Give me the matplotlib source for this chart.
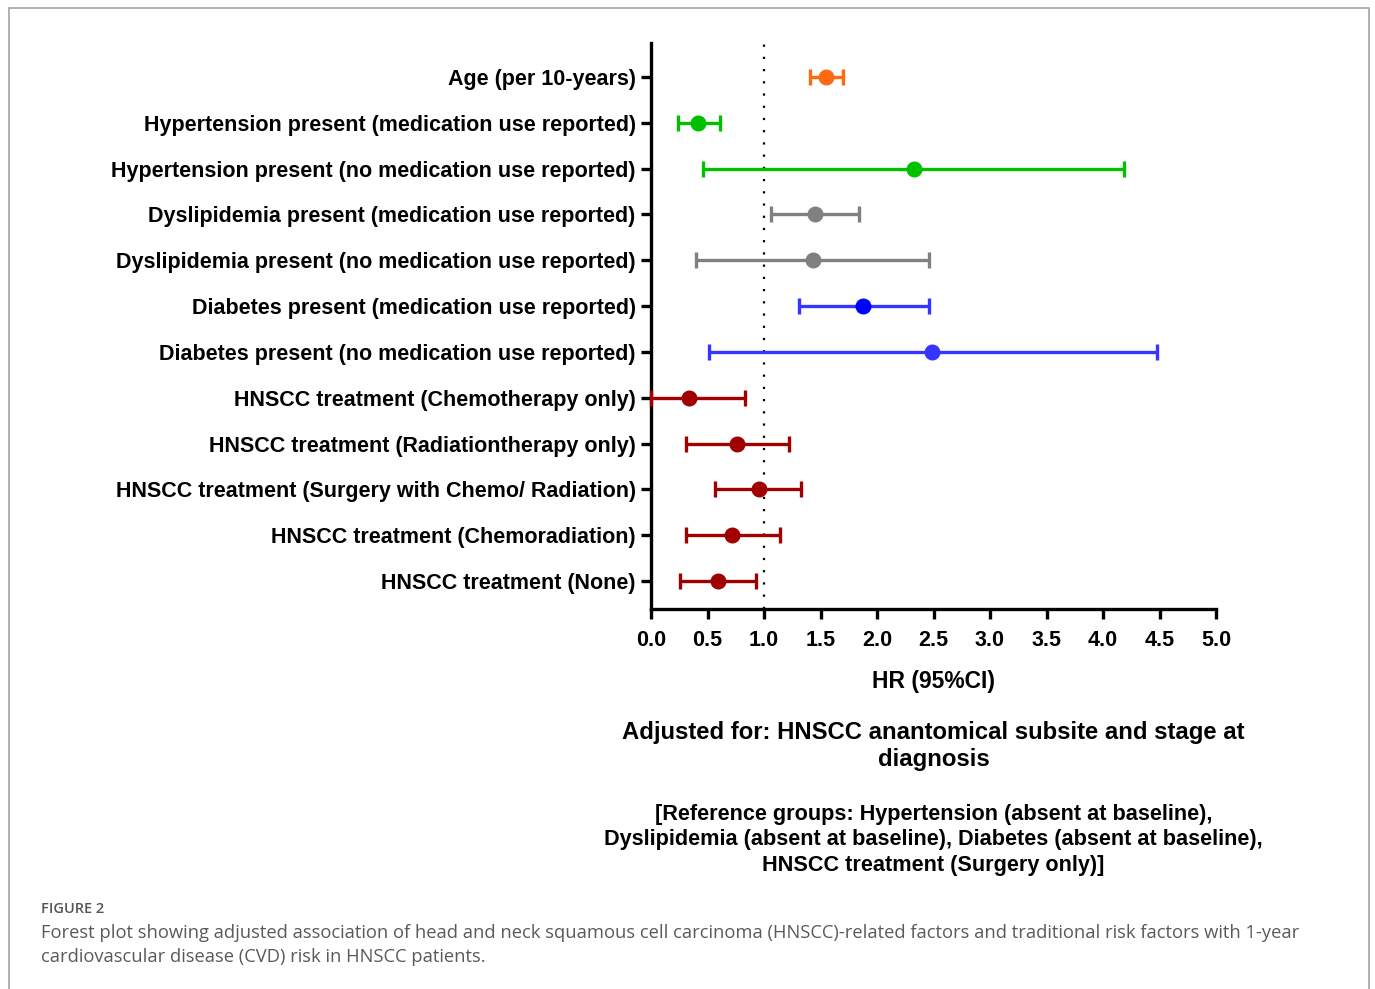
import matplotlib.pyplot as plt
import matplotlib.patches as mpatches

# Forest plot data (HR and 95% CI), top row first
labels = [
    "Age (per 10-years)",
    "Hypertension present (medication use reported)",
    "Hypertension present (no medication use reported)",
    "Dyslipidemia present (medication use reported)",
    "Dyslipidemia present (no medication use reported)",
    "Diabetes present (medication use reported)",
    "Diabetes present (no medication use reported)",
    "HNSCC treatment (Chemotherapy only)",
    "HNSCC treatment (Radiationtherapy only)",
    "HNSCC treatment (Surgery with Chemo/ Radiation)",
    "HNSCC treatment (Chemoradiation)",
    "HNSCC treatment (None)",
]
hr = [1.55, 0.42, 2.33, 1.45, 1.43, 1.88, 2.49, 0.34, 0.76, 0.96, 0.72, 0.59]
lower = [1.41, 0.24, 0.46, 1.06, 0.40, 1.31, 0.51, 0.00, 0.31, 0.57, 0.31, 0.26]
upper = [1.70, 0.61, 4.19, 1.84, 2.46, 2.46, 4.48, 0.83, 1.22, 1.33, 1.14, 0.93]

orange, green, gray, blue, dred = "#FF6A10", "#00C000", "#808080", "#3535FF", "#A00000"
line_colors = [orange, green, green, gray, gray, blue, blue, dred, dred, dred, dred, dred]
point_colors = [orange, green, green, gray, gray, "#0000FF", "#3535FF", dred, dred, dred, dred, dred]

font = "Liberation Sans"

fig = plt.figure(figsize=(13.75, 9.89), dpi=100)
ax = fig.add_axes([651 / 1375, 1 - 609 / 989, 565 / 1375, 566 / 989])

for i in range(len(labels)):
    ax.errorbar(hr[i], i, xerr=[[hr[i] - lower[i]], [upper[i] - hr[i]]],
                fmt="o", color=line_colors[i], mfc=point_colors[i], mec=point_colors[i],
                ms=10.5, elinewidth=2.4, capsize=5.5, capthick=2.4, clip_on=False, zorder=3)

ax.axvline(1.0, color="black", linestyle=(0, (1, 4.5)), linewidth=1.6, zorder=1)

ax.set_xlim(0, 5)
ax.set_ylim(11.61, -0.74)
ax.set_xticks([i * 0.5 for i in range(11)])
ax.set_xticklabels([f"{i * 0.5:.1f}" for i in range(11)])
ax.set_yticks(range(len(labels)))
ax.set_yticklabels(labels)

for s in ["top", "right"]:
    ax.spines[s].set_visible(False)
for s in ["left", "bottom"]:
    ax.spines[s].set_linewidth(2.4)
ax.tick_params(axis="both", width=2.4, length=7, labelsize=15.5)
ax.tick_params(axis="x", pad=8)
ax.tick_params(axis="y", pad=4)
for lab in ax.get_xticklabels() + ax.get_yticklabels():
    lab.set_fontfamily(font)
    lab.set_fontweight("bold")

ax.set_xlabel("HR (95%CI)", fontsize=16.5, fontweight="bold", family=font, labelpad=14)

cx = (651 + 1216) / 2 / 1375
fig.text(cx, 1 - 746 / 989, "Adjusted for: HNSCC anantomical subsite and stage at\ndiagnosis",
         ha="center", va="center", fontsize=17.2, fontweight="bold", family=font, linespacing=1.2)
fig.text(cx, 1 - 840 / 989,
         "[Reference groups: Hypertension (absent at baseline),\n"
         "Dyslipidemia (absent at baseline), Diabetes (absent at baseline),\n"
         "HNSCC treatment (Surgery only)]",
         ha="center", va="center", fontsize=15.6, fontweight="bold", family=font, linespacing=1.27)

# caption
fig.text(41 / 1375, 1 - 909 / 989, "FIGURE 2", ha="left", va="center",
         fontsize=10.5, color="#555555", family="Open Sans", fontweight="semibold")
fig.text(41 / 1375, 1 - 945 / 989,
         "Forest plot showing adjusted association of head and neck squamous cell carcinoma (HNSCC)-related factors and traditional risk factors with 1-year\n"
         "cardiovascular disease (CVD) risk in HNSCC patients.",
         ha="left", va="center", fontsize=13.2, color="#5a5a5a", family="Open Sans",
         linespacing=1.42)

# light border frame
frame = mpatches.Rectangle((9 / 1375, -0.01), 1360 / 1375, 1 - 8 / 989 + 0.01,
                           transform=fig.transFigure, fill=False,
                           edgecolor="#AAAAAA", linewidth=1.3)
fig.patches.append(frame)

fig.savefig("out.png", dpi=100)
